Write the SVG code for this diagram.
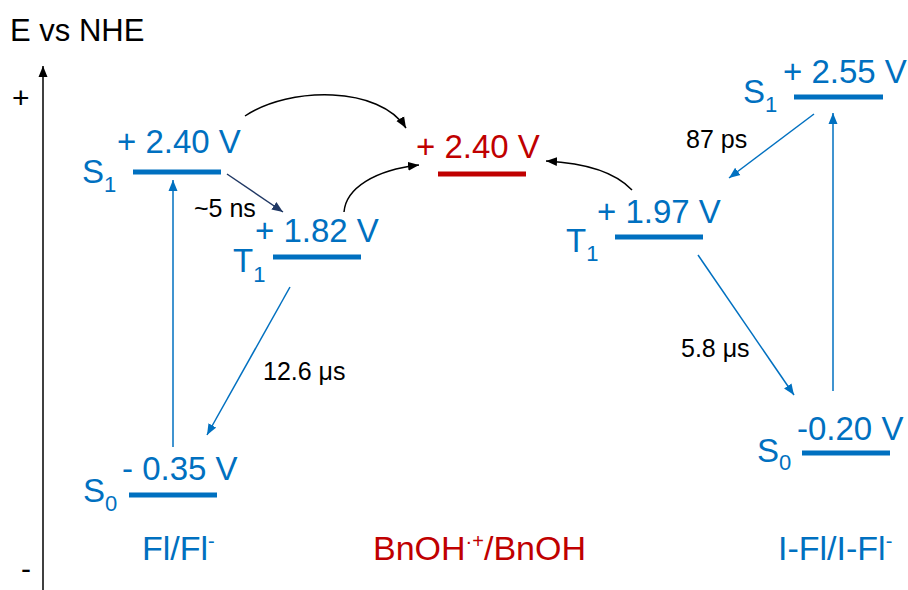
<svg xmlns="http://www.w3.org/2000/svg" width="908" height="590" viewBox="0 0 908 590">
<defs>
<style>
text{font-family:"Liberation Sans",Arial,sans-serif;}
.v{font-size:33px;fill:#0070C0;}
.r{font-size:33px;fill:#C00000;}
.lb{font-size:34px;}
.k{font-size:25px;fill:#000;}
.sub{font-size:22px;}
.sup{font-size:20px;}
.bar{stroke:#0070C0;stroke-width:5;fill:none;}
.rbar{stroke:#C00000;stroke-width:5;fill:none;}
.ba{stroke:#0070C0;stroke-width:1.5;fill:none;marker-end:url(#mb);}
.na{stroke:#203864;stroke-width:1.5;fill:none;marker-end:url(#mn);}
.ka{stroke:#000;stroke-width:1.5;fill:none;marker-end:url(#mk);}
</style>
<marker id="mb" markerUnits="userSpaceOnUse" markerWidth="12" markerHeight="10" refX="11" refY="5" orient="auto"><path d="M0,0.5 L11,5 L0,9.5 Z" fill="#0070C0"/></marker>
<marker id="mn" markerUnits="userSpaceOnUse" markerWidth="12" markerHeight="10" refX="11" refY="5" orient="auto"><path d="M0,0.5 L11,5 L0,9.5 Z" fill="#203864"/></marker>
<marker id="mk" markerUnits="userSpaceOnUse" markerWidth="12" markerHeight="10" refX="11" refY="5" orient="auto"><path d="M0,0.5 L11,5 L0,9.5 Z" fill="#000"/></marker>
</defs>
<rect width="908" height="590" fill="#fff"/>

<g id="axis">
<text x="10" y="41" style="font-size:31px;fill:#000">E vs NHE</text>
<text x="12" y="108" style="font-size:30px;fill:#000">+</text>
<text x="21" y="579" style="font-size:30px;fill:#000">-</text>
<line x1="43" y1="590" x2="43" y2="66" class="ka"/>
</g>

<g id="fl-s1">
<line x1="133" y1="172" x2="221" y2="172" class="bar"/>
<text x="117" y="153" class="v">+ 2.40 V</text>
<text x="82" y="183" class="v">S<tspan class="sub" dy="9">1</tspan></text>
</g>
<g id="fl-t1">
<line x1="273" y1="257" x2="361" y2="257" class="bar"/>
<text x="255" y="242" class="v">+ 1.82 V</text>
<text x="233" y="272" class="v">T<tspan class="sub" dy="10">1</tspan></text>
</g>
<g id="fl-s0">
<line x1="129" y1="495" x2="217" y2="495" class="bar"/>
<text x="122" y="480" class="v">- 0.35 V</text>
<text x="83" y="502" class="v">S<tspan class="sub" dy="9">0</tspan></text>
</g>
<g id="fl-label">
<text x="142" y="560" class="v lb">Fl/Fl<tspan class="sup" dy="-12">-</tspan></text>
</g>

<g id="bnoh">
<line x1="438" y1="174" x2="526" y2="174" class="rbar"/>
<text x="416" y="158" class="r">+ 2.40 V</text>
</g>
<g id="bnoh-label">
<text x="373" y="560" class="r lb">BnOH<tspan class="sup" dy="-12">·+</tspan><tspan dy="12">/BnOH</tspan></text>
</g>

<g id="ifl-s1">
<line x1="794" y1="97" x2="883" y2="97" class="bar"/>
<text x="783" y="83" class="v">+ 2.55 V</text>
<text x="743" y="103" class="v">S<tspan class="sub" dy="9">1</tspan></text>
</g>
<g id="ifl-t1">
<line x1="615" y1="237" x2="703" y2="237" class="bar"/>
<text x="597" y="223" class="v">+ 1.97 V</text>
<text x="566" y="252" class="v">T<tspan class="sub" dy="9">1</tspan></text>
</g>
<g id="ifl-s0">
<line x1="802" y1="453" x2="890" y2="453" class="bar"/>
<text x="797" y="440" class="v">-0.20 V</text>
<text x="757" y="462" class="v">S<tspan class="sub" dy="8">0</tspan></text>
</g>
<g id="ifl-label">
<text x="778" y="560" class="v lb">I-Fl/I-Fl<tspan class="sup" dy="-12">-</tspan></text>
</g>

<g id="connectors">
<line x1="173" y1="447" x2="173" y2="180" class="ba"/>
<line x1="227" y1="174" x2="283" y2="212" class="na"/>
<line x1="290" y1="287" x2="207" y2="435" class="ba"/>
<path d="M245,116 C290,86 380,86 406,128" class="ka"/>
<path d="M344,212 C346,188 375,170 419,165" class="ka"/>
<path d="M632,190 C615,172 585,163 546,161" class="ka"/>
<line x1="814" y1="114" x2="729" y2="178" class="ba"/>
<line x1="833" y1="391" x2="833" y2="113" class="ba"/>
<line x1="698" y1="255" x2="794" y2="395" class="ba"/>
<text x="194" y="217" class="k">~5 ns</text>
<text x="263" y="380" class="k">12.6 μs</text>
<text x="686" y="148" class="k">87 ps</text>
<text x="681" y="357" class="k">5.8 μs</text>
</g>
</svg>
